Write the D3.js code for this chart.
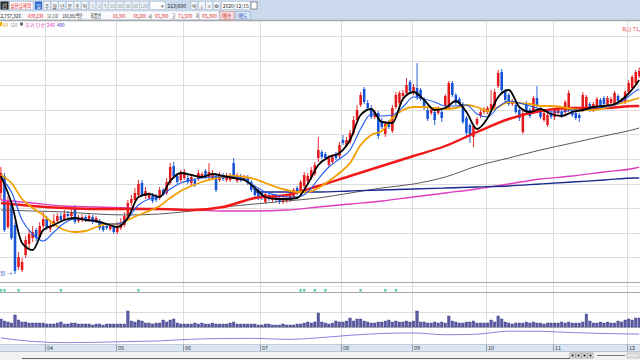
<!DOCTYPE html>
<html><head><meta charset="utf-8">
<script src="https://cdn.jsdelivr.net/npm/d3@7"></script>
<style>
body{margin:0;background:#fff;overflow:hidden}
text{font-family:"Noto Sans CJK KR","Noto Sans",sans-serif}
</style>
</head><body><svg id="c" width="640" height="360"></svg>
<script>
// ---------------- DATA ----------------
const monthLabels = ["03","04","05","06","07","08","09","10","11","12"];
const monthDays   = [13,20,19,22,23,20,21,19,21,4];

const open = [46400,49800,39600,44000,40000,31600,31000,34000,36200,37400,39000,37600,39800,
41200,39200,40000,40800,41800,41000,42200,41800,43400,40800,41000,41600,41000,41600,40800,40800,39800,39800,39200,39800,
38600,39400,40000,41400,44400,45000,46000,48400,45800,45400,45800,45600,45400,47000,46400,48400,51800,49800,49000,
49400,49400,48400,49000,49200,49800,50800,49600,49400,49800,49000,50000,49000,49000,52400,48800,49800,49200,49600,48600,47400,47000,
46400,44600,46000,45000,45800,45400,44600,44800,45000,45600,47400,46400,47800,48800,49400,50200,53400,54600,54200,52000,52600,54200,53800,
57000,56000,56600,58400,61000,64000,67200,64400,63400,61600,62400,60800,58200,60600,58800,63600,64400,65800,66400,68600,
66400,67400,67000,65000,63000,62400,62600,62400,62600,63800,63400,68400,66000,65200,64200,61400,60000,57600,60200,61800,62600,
62600,63200,63800,67800,70600,66800,66000,64200,64000,63000,58600,64400,63000,62600,65400,63400,61000,60000,62400,
61600,62400,62600,62600,63000,62800,62400,62000,63000,63400,64200,63000,63800,65000,65400,64000,64400,64000,65800,64600,64600,
66600,67400,68400,69800];
const high = [51600,50400,45800,44400,40600,34600,33400,37800,39000,39800,39400,40600,42600,
41800,40600,42200,42400,42400,43000,42800,43400,44000,42000,42200,42000,42400,42000,41800,41200,40200,40200,40200,40200,
40600,41400,42600,45000,46000,47400,49000,49000,47600,46600,46400,46200,47600,47400,49400,52400,52600,50400,51000,
51200,50000,50200,49400,51000,50600,51200,52400,51000,50200,50600,50400,50400,50400,53400,50400,50200,50000,50000,49000,47800,47400,
46800,46800,46400,46000,46200,45800,45600,45800,46600,47400,47800,49000,50600,50400,51600,52600,57600,55000,54600,54000,54200,54600,56600,
58000,57600,59000,61800,64000,66600,67600,65000,64000,63000,62800,61400,60800,61000,64000,66600,66800,67000,69400,69000,
68200,72400,67400,65600,63400,63400,63000,63800,63000,66200,68800,68800,66400,65600,64600,61800,60400,60200,61600,63000,63600,
63800,67000,67200,71000,71200,67200,66400,65200,64400,63400,63000,64800,63400,65800,67800,63800,62800,62400,62800,
63400,63600,63000,65000,67000,63200,62800,62400,66600,66000,64600,64600,65600,65400,65800,65800,65600,66800,66200,65400,67000,
69000,70000,71000,71500];
const low = [45000,38600,39200,37000,30200,31000,30600,33400,35400,36600,36800,37200,39400,
39000,38600,39600,40400,40600,40800,41400,41400,40200,40400,40600,40600,40600,40200,40400,39000,38600,39000,38800,38200,
38200,39000,39600,41000,43800,44600,45600,45600,45200,45000,44400,44600,45000,45800,46000,48000,49400,48200,48600,
49000,48200,48000,47600,48800,49400,49200,49200,49000,46600,48600,48800,48600,48600,49200,48400,48600,48800,48000,46600,45600,45000,
45000,44200,44800,44600,44600,44200,44200,44400,44600,45200,46000,46000,47400,48400,49000,49800,52600,53200,53000,51600,52200,53000,53400,
56000,55600,56200,58000,60600,63600,64200,63000,61200,61200,57200,59200,57600,59200,58400,63200,63800,65400,66000,66400,
66000,65000,64800,63000,60800,62000,60000,62000,60600,63400,63000,65600,64000,63800,60200,57600,56400,55600,59800,61400,62200,
62200,62800,63400,67400,66600,64600,63800,63800,62200,60800,58200,62400,61400,62200,63400,61200,60600,59600,61200,
61000,62000,61400,62200,62600,61600,61000,60600,62600,63000,62600,62600,63400,63000,63800,63600,64000,63600,64400,64200,64200,
66200,67000,68000,69400];
const close = [50400,39000,45000,37400,30800,33600,32600,37000,38200,38600,37400,39800,41200,
39600,39800,40800,41800,41000,42200,41800,42600,40600,41400,41600,41000,41800,40600,41400,39400,39000,39400,39800,38600,
39800,40600,41800,44400,45200,46400,48200,46000,46800,46000,44800,45000,47000,46200,48600,51600,49800,48600,50400,
50600,48600,49600,48000,50400,50200,49600,50600,50400,47000,50000,49200,49800,50000,49600,49800,49000,49600,48400,47000,46000,45400,
45400,46200,45200,45600,45000,44600,45200,45400,46200,47000,46400,48600,50000,49800,51000,52000,55000,53600,53400,53400,53600,53400,56000,
56400,57000,58400,61000,63000,66000,64600,63400,61600,62600,57800,59600,60200,59600,63400,66000,66400,66400,68000,66800,
67600,65600,65200,63400,61200,63000,61000,63200,61400,65800,68400,66000,64400,64200,60600,58400,57800,59800,61200,62600,63200,
63400,64200,66600,70400,67000,65000,64200,64800,62600,61400,62400,62800,61800,65400,63800,61600,62400,62000,61600,
63000,63000,61800,64600,66400,62000,61400,61400,66000,65600,63000,64200,65200,63600,64200,65400,65200,66400,64800,65000,66600,
68400,69600,70600,70800];
// volume, thousand shares
const volume = [800,600,500,400,1200,700,500,500,400,400,400,400,400,
300,300,300,400,500,300,300,400,400,300,300,300,300,200,300,300,200,300,300,300,
300,300,300,1600,600,500,700,600,400,400,300,400,400,700,500,700,800,400,300,
300,300,300,400,300,400,300,300,400,300,300,300,300,400,500,300,300,300,300,300,300,200,
200,300,300,200,200,200,300,200,200,200,300,300,400,500,400,500,1400,500,400,300,400,600,500,
500,600,900,600,800,800,600,500,400,400,500,500,600,700,500,600,500,500,600,500,
600,1600,500,500,400,400,500,400,500,400,1100,600,500,400,400,500,500,600,400,400,400,
400,700,500,1100,800,500,400,300,400,400,400,500,400,500,400,400,300,400,400,
400,400,500,400,500,400,400,400,500,1300,600,400,400,500,400,500,400,400,600,500,700,
800,700,900,900];

// moving averages at sample days
const maStepA = 3;   // every 3rd trading day (+ last day)
const ma5  = [49800,44400,36400,35000,39000,40000,41000,41400,41000,40800,40200,39600,41400,45600,46200,45600,48800,50400,50000,49600,50200,49800,49400,49000,47400,45600,45200,45200,45400,48200,52000,53600,54400,57000,62000,63200,60600,60400,65200,66600,65000,63000,63400,64800,62600,59200,61400,65600,67000,63600,62600,63200,62200,61800,62600,63000,63600,63800,64200,65600,68000,69000];
const ma10 = [49400,46600,41000,38200,36800,38600,40400,41200,41200,40600,40200,40200,41400,44000,45200,45600,47200,48400,49000,49400,49600,49600,49600,49200,47800,46600,46000,45600,45600,46600,49200,51600,53200,55000,59200,62200,61800,62000,63600,65600,65200,64600,63800,63800,64000,62200,61600,63600,64800,64400,63800,63200,62600,62600,63000,63000,63400,63600,64000,65200,66800,67200];
const ma20 = [50000,48400,45200,43400,42000,40200,39000,38600,38800,39600,40200,40200,41000,42000,42800,43800,45400,46800,47800,48600,49200,49600,49800,49600,49200,48400,47600,47000,46600,46600,47400,48800,50400,52400,56000,58000,58800,61400,63000,63600,63600,63400,63200,63400,64000,63600,62800,63600,64600,64400,64200,63800,63800,63600,63200,63000,63000,63400,64000,64600,65200,65400];
const maStepB = 9;   // every 9th trading day (+ last day)
const ma60  = [44400,43800,43400,43200,43200,43200,43000,43600,45400,46000,47800,49800,51800,53800,55800,58600,61200,62800,63400,63400,63800,63800];
const ma120 = [43000,42800,42600,42200,42000,42200,42800,43600,44200,44800,45400,46400,47400,48200,49600,51800,53400,55000,56400,57800,59200,59400];
const ma240 = [45000,44400,43800,43600,43400,43200,43000,42800,42800,43000,43600,44200,44800,45600,46400,47200,48200,49200,49800,50600,51400,51600];
const ma480 = [null,null,null,null,null,null,null,null,46600,46600,46600,46800,47000,47200,47400,47600,47800,48200,48600,49000,49400,49400];
const osc   = [39,20,13,15,19,23,32,36,37,31,40,54,64,67,57,60,77,76,69,64,61,61];
const signalDays = [0,1,5,17,39,85,86,89,92,102,109,112];

// ---------------- LAYOUT ----------------
const W = 640, H = 360;
const svg = d3.select("#c");
const days = monthDays.flatMap((n,m)=>d3.range(n).map(d=>monthLabels[m]+"-"+(d+1)));
const x = d3.scalePoint().domain(days).range([-0.86, 641.0]).padding(0.5);
const step = x.step();
const bodyW = step*0.72;
const y = d3.scaleLinear().domain([77800, 28600]).range([36, 282]);
const yVol = d3.scaleLinear().domain([0, 3500]).range([327, 292]);
const yOsc = d3.scaleLinear().domain([0, 100]).range([345, 327]);

function txt(g, xx, yy, s, fs, color, len, anchor){
  const t = g.append("text").attr("x",xx).attr("y",yy).attr("font-size",fs).attr("fill",color).text(s);
  if (len) t.attr("textLength",len).attr("lengthAdjust","spacingAndGlyphs");
  if (anchor) t.attr("text-anchor",anchor);
  return t;
}

// header bars
svg.append("rect").attr("x",0).attr("y",0).attr("width",W).attr("height",20).attr("fill","#cad9eb");
svg.append("rect").attr("x",0).attr("y",20).attr("width",W).attr("height",332).attr("fill","#fff");
svg.append("line").attr("x1",0).attr("x2",W).attr("y1",20.5).attr("y2",20.5).attr("stroke","#a9a9a9").attr("stroke-width",1.5);

// toolbar row 1
const tb = svg.append("g");
tb.append("rect").attr("x",0.5).attr("y",1.5).attr("width",8).attr("height",8).attr("fill","#222");
txt(tb,1.5,8.1,"검",5.6,"#fff",5.6);
tb.append("rect").attr("x",9.5).attr("y",1.5).attr("width",23.5).attr("height",8).attr("fill","#fff").attr("stroke","#9fb3cc").attr("stroke-width",0.5);
txt(tb,10.5,8.2,"삼천당제약",5.6,"#e0201c",20.5);
tb.append("rect").attr("x",35).attr("y",1.5).attr("width",7).attr("height",8).attr("fill","#2d6bd0");
txt(tb,36.2,8.1,"일",5,"#fff",4.6);
const tabs = ["주","월","년","분","초","틱"];
tabs.forEach((t,i)=>{
  const xx = 43.5 + i*7.6;
  tb.append("rect").attr("x",xx).attr("y",1.5).attr("width",7).attr("height",8).attr("fill","#f4f7fb").attr("stroke","#a8b8cc").attr("stroke-width",0.5);
  txt(tb,xx+1.2,8.1,t,5,"#333",4.6);
});
const nums = ["1","3","5","10","20","30","60","120"];
let nx = 90;
nums.forEach(t=>{
  const w = t.length===1?5.6:(t.length===2?7.2:8.6);
  tb.append("rect").attr("x",nx).attr("y",1.5).attr("width",w).attr("height",8).attr("fill","#eef2f7").attr("stroke","#b4c2d4").attr("stroke-width",0.5);
  txt(tb,nx+w/2,7.7,t,4.6,"#8a94a4",null,"middle");
  nx += w+0.6;
});
tb.append("rect").attr("x",150).attr("y",1.5).attr("width",15).attr("height",8).attr("fill","#fff").attr("stroke","#a8b8cc").attr("stroke-width",0.5);
txt(tb,160.5,7.6,"▾",4.6,"#555");
txt(tb,167.5,7.9,"213/600",5.2,"#222",18.5);
["빅","↓","≡","⚙"].forEach((t,i)=>{
  tb.append("rect").attr("x",191+i*7.4).attr("y",1.5).attr("width",6.8).attr("height",8).attr("fill","#f4f7fb").attr("stroke","#a8b8cc").attr("stroke-width",0.5);
  txt(tb,192.1+i*7.4,7.9,t,4.6,"#333",4.6);
});
tb.append("rect").attr("x",221.5).attr("y",1.5).attr("width",28.5).attr("height",8).attr("fill","#fff").attr("stroke","#a8b8cc").attr("stroke-width",0.5);
txt(tb,222.7,7.8,"2020/12/15",5,"#222",26);
tb.append("rect").attr("x",251).attr("y",2).attr("width",6).attr("height",7).attr("fill","#fff").attr("stroke","#555").attr("stroke-width",0.6);

// toolbar row 2 (quote line)
const r2 = svg.append("g");
r2.append("rect").attr("x",0).attr("y",11).attr("width",219).attr("height",8.5).attr("fill","#fafbfd").attr("stroke","#b8c6d8").attr("stroke-width",0.5);
const quote = [
  {t:"2,757,326",x:0.5,c:"#222",w:20.5,f:5.2},{t:"439,230",x:28,c:"#e0201c",w:15.5,f:5.2},{t:"12.110",x:47,c:"#222",w:11,f:4.6},
  {t:"168,881백만",x:62.5,c:"#222",w:20,f:5.2},{t:"최종변",x:90.5,c:"#222",w:10.5,f:5.2},{t:"68,300",x:113,c:"#e0201c",w:12.5,f:5.2},
  {t:"68,200",x:133.5,c:"#e0201c",w:12.5,f:5.2},{t:"시",x:148.3,c:"#222",w:3.8,f:5.2},{t:"65,300",x:155,c:"#e0201c",w:13.5,f:5.2},
  {t:"고",x:171.8,c:"#222",w:3.8,f:5.2},{t:"71,500",x:178,c:"#e0201c",w:14.5,f:5.2},{t:"저",x:195.8,c:"#222",w:3.8,f:5.2},{t:"65,300",x:202.3,c:"#e0201c",w:14.5,f:5.2}
];
quote.forEach(q=>txt(r2,q.x,17.5,q.t,q.f,q.c,q.w));
r2.append("rect").attr("x",220).attr("y",11.5).attr("width",14).attr("height",8).attr("fill","#f7dede").attr("stroke","#d08080").attr("stroke-width",0.5);
txt(r2,222,17.6,"매수",5.2,"#d01010",9.6);
r2.append("rect").attr("x",236).attr("y",11.5).attr("width",14).attr("height",8).attr("fill","#dde8f6").attr("stroke","#7f9fcf").attr("stroke-width",0.5);
txt(r2,238,17.6,"매도",5.2,"#1030c0",9.6);

// ---------------- GRID ----------------
const grid = svg.append("g");
const hTicks = d3.range(0, 11).map(k => 77800 - k*4920);
grid.selectAll("line.h").data(hTicks).join("line")
  .attr("x1",0).attr("x2",W).attr("y1",d=>Math.round(y(d))+0.5).attr("y2",d=>Math.round(y(d))+0.5)
  .attr("stroke","#dcdcdc").attr("stroke-width",1);
const monthStarts = monthLabels.map((m,i)=>days[d3.sum(monthDays.slice(0,i))]).slice(1);
grid.selectAll("line.v").data(monthStarts).join("line")
  .attr("x1",d=>Math.round(x(d)-step/2)+0.5).attr("x2",d=>Math.round(x(d)-step/2)+0.5)
  .attr("y1",21).attr("y2",352).attr("stroke","#dcdcdc").attr("stroke-width",1);
[[282,"#a8a8a8"],[292,"#a8a8a8"],[327,"#b8b8b8"],[344,"#b0b0b0"]].forEach(([yy,c])=>{
  grid.append("line").attr("x1",0).attr("x2",W).attr("y1",yy+0.5).attr("y2",yy+0.5).attr("stroke",c).attr("stroke-width",1);
});
grid.append("line").attr("x1",0).attr("x2",W).attr("y1",286.5).attr("y2",286.5).attr("stroke","#e6e6e6");
grid.append("line").attr("x1",0).attr("x2",W).attr("y1",yVol(1500)+0.5).attr("y2",yVol(1500)+0.5).attr("stroke","#dcdcdc");

// legend row
const lg = svg.append("g");
lg.append("rect").attr("x",0).attr("y",22).attr("width",2).attr("height",4).attr("fill","#f0b000");
txt(lg,3,26.5,"60",5,"#e0a000",5);
txt(lg,10.5,26.5,"120",5,"#888",7);
lg.append("rect").attr("x",20).attr("y",22.5).attr("width",3).attr("height",3).attr("fill","#666");
txt(lg,25,26.5,"추가 단순 240",5,"#e040c0",30);
txt(lg,57,26.5,"480",5,"#2030c0",7.5);
txt(svg,622,31,"최고 71,",5,"#e0201c",18);

// ---------------- CANDLES ----------------
const idx = d3.range(days.length);
const cg = svg.append("g");
const colorOf = i => close[i] >= open[i] ? "#e3191c" : "#1452d6";
cg.selectAll("line.w").data(idx).join("line")
  .attr("x1",i=>x(days[i])).attr("x2",i=>x(days[i]))
  .attr("y1",i=>y(high[i])).attr("y2",i=>y(low[i]))
  .attr("stroke",colorOf).attr("stroke-width",0.9);
cg.selectAll("rect.b").data(idx).join("rect")
  .attr("x",i=>x(days[i])-bodyW/2).attr("width",bodyW)
  .attr("y",i=>y(Math.max(open[i],close[i])))
  .attr("height",i=>Math.max(0.8, Math.abs(y(open[i])-y(close[i]))))
  .attr("fill",colorOf);

// ---------------- MOVING AVERAGES ----------------
const idxA = ma5.map((_,k)=> Math.min(k*maStepA, days.length-1));
const idxB = ma60.map((_,k)=> Math.min(k*maStepB, days.length-1));
function drawMA(vals, ids, color, width){
  const pts = vals.map((v,k)=>[ids[k], v]).filter(p=>p[1]!=null);
  svg.append("path").datum(pts)
    .attr("d", d3.line().x(p=>x(days[p[0]])).y(p=>y(p[1])).curve(d3.curveMonotoneX))
    .attr("fill","none").attr("stroke",color).attr("stroke-width",width);
}
drawMA(ma120, idxB, "#5a5a5a", 1);
drawMA(ma240, idxB, "#e03cbe", 1.3);
drawMA(ma480, idxB, "#1b2a8e", 1.3);
drawMA(ma60,  idxB, "#f01818", 2.4);
drawMA(ma20,  idxA, "#f2a000", 1.8);
drawMA(ma10,  idxA, "#1d5cf0", 1.1);
drawMA(ma5,   idxA, "#000", 1.8);

// low label
txt(svg,0,274.5,"원 →",5,"#2040c0",12);

// ---------------- SIGNAL PANEL ----------------
svg.selectAll("rect.sig").data(signalDays).join("rect")
  .attr("x",i=>x(days[i])-1.2).attr("y",289).attr("width",2.4).attr("height",2.6)
  .attr("fill","#5fcf9f");

// ---------------- VOLUME ----------------
svg.selectAll("rect.vol").data(idx).join("rect")
  .attr("x",i=>x(days[i])-bodyW/2).attr("width",bodyW)
  .attr("y",i=>yVol(volume[i])).attr("height",i=>yVol(0)-yVol(volume[i]))
  .attr("fill","#5b5ba3").attr("stroke","#3b3b85").attr("stroke-width",0.4);

// ---------------- OSCILLATOR ----------------
svg.append("path").datum(osc.map((v,k)=>[idxB[k],v]))
  .attr("d", d3.line().x(p=>x(days[p[0]])).y(p=>yOsc(p[1])).curve(d3.curveMonotoneX))
  .attr("fill","none").attr("stroke","#8a7fe0").attr("stroke-width",1);

// ---------------- DATE AXIS ----------------
svg.append("rect").attr("x",0).attr("y",344.5).attr("width",W).attr("height",6.5).attr("fill","#d9e5f2");
svg.append("rect").attr("x",0).attr("y",351).attr("width",W).attr("height",9).attr("fill","#f2f2f2");
svg.append("line").attr("x1",0).attr("x2",W).attr("y1",351.5).attr("y2",351.5).attr("stroke","#b8c4d2");
monthStarts.forEach((d,i)=>{
  const xx = Math.round(x(d)-step/2)+0.5;
  svg.append("line").attr("x1",xx).attr("x2",xx).attr("y1",344.5).attr("y2",351).attr("stroke","#8a99ad");
  txt(svg,xx+1.5,350.3,monthLabels[i+1],5.5,"#333");
});
// scroll controls
svg.append("line").attr("x1",22).attr("x2",570).attr("y1",358.5).attr("y2",358.5).attr("stroke","#666");
[570,576,582,588].forEach((xx,i)=>{
  svg.append("rect").attr("x",xx).attr("y",353).attr("width",5).attr("height",5).attr("fill","#fff").attr("stroke","#555").attr("stroke-width",0.5);
  svg.append("rect").attr("x",xx+1.5).attr("y",354.5).attr("width",2).attr("height",2).attr("fill","#111");
});
svg.append("line").attr("x1",597).attr("x2",625).attr("y1",355.5).attr("y2",355.5).attr("stroke","#777");
svg.append("rect").attr("x",627).attr("y",353).attr("width",12).attr("height",5).attr("fill","#e6e6e6").attr("stroke","#888").attr("stroke-width",0.4);
</script></body></html>
